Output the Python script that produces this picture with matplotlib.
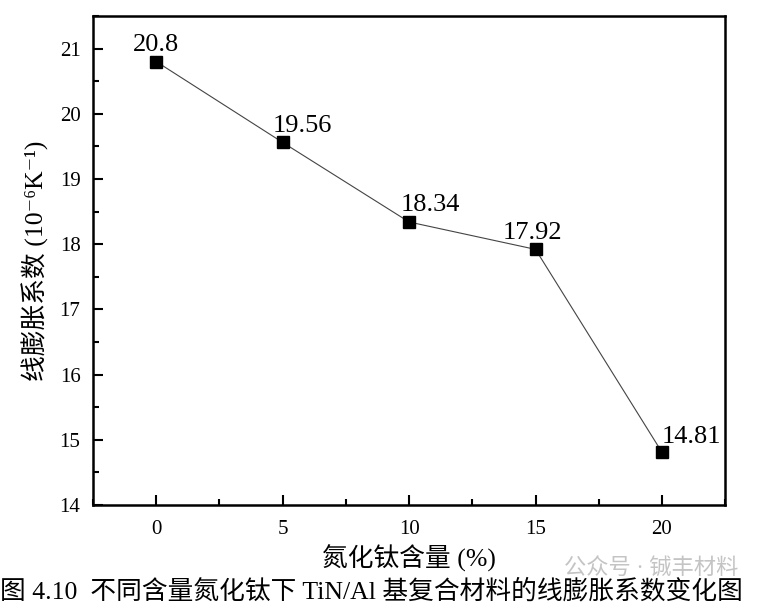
import matplotlib
matplotlib.use("Agg")
import matplotlib.pyplot as plt
from matplotlib.ticker import MultipleLocator

# data
tin_content = [0, 5, 10, 15, 20]           # TiN content (%)
cte_values = [20.8, 19.56, 18.34, 17.92, 14.81]  # 10^-6 K^-1
value_labels = ["20.8", "19.56", "18.34", "17.92", "14.81"]

# label offsets in points (dx, dy) relative to each marker
LABEL_OFFSETS = [(0, 4), (14, 4), (15, 4), (-2, 4), (21, 3)]

SERIF_CJK = ["Liberation Serif", "Noto Sans CJK SC", "DejaVu Serif"]
plt.rcParams["font.family"] = SERIF_CJK

fig = plt.figure(figsize=(7.57, 6.06), dpi=100)
ax = fig.add_axes([0.1229, 0.1667, 0.835, 0.807])

ax.plot(tin_content, cte_values, color="#444444", linewidth=0.8,
        marker="s", markersize=8, markerfacecolor="black",
        markeredgecolor="black", zorder=3)

for x, y, lab, (dx, dy) in zip(tin_content, cte_values, value_labels, LABEL_OFFSETS):
    ax.annotate(lab, xy=(x, y), xytext=(dx, dy), textcoords="offset points",
                ha="center", va="bottom", fontsize=19)

ax.set_xlim(-2.5, 22.5)
ax.set_ylim(14, 21.5)
ax.xaxis.set_major_locator(MultipleLocator(5))
ax.xaxis.set_minor_locator(MultipleLocator(2.5))
ax.yaxis.set_major_locator(MultipleLocator(1))
ax.yaxis.set_minor_locator(MultipleLocator(0.5))
ax.tick_params(which="both", direction="in", top=False, right=False,
               labelsize=15, width=1.5)
ax.tick_params(axis="x", pad=11)
ax.tick_params(axis="y", pad=9)
ax.tick_params(which="major", length=7)
ax.tick_params(which="minor", length=4)
for sp in ax.spines.values():
    sp.set_linewidth(1.8)

ax.set_xlabel("氮化钛含量 (%)", fontsize=18.5, labelpad=4)
ax.set_ylabel("线膨胀系数 (10⁻⁶K⁻¹)", fontsize=18.5, labelpad=8)

fig.text(0.0, 0.025, "图 4.10  不同含量氮化钛下 TiN/Al 基复合材料的线膨胀系数变化图",
         fontsize=18.5, ha="left", va="center")
fig.text(0.745, 0.06, "公众号 · 铖丰材料", fontsize=16, color="#c4c4c4",
         ha="left", va="center")

fig.savefig("out.png", dpi=100)
